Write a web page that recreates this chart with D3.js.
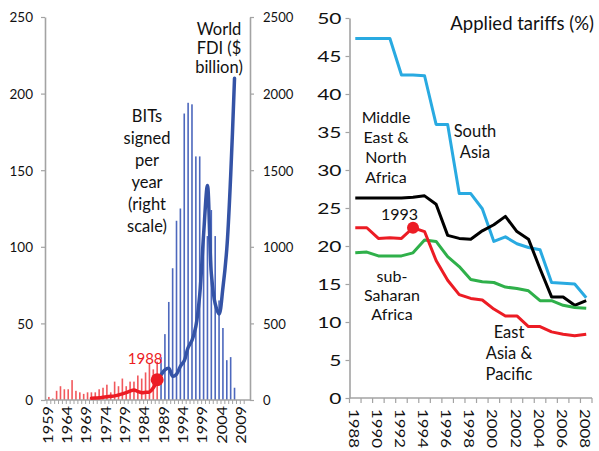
<!DOCTYPE html>
<html><head><meta charset="utf-8">
<script src="https://cdn.jsdelivr.net/npm/d3@7"></script>
<style>
body{margin:0;background:#fff}
svg{display:block}
text{font-family:Lato,"Open Sans",sans-serif;fill:#111}
</style>
</head><body>
<svg id="chart" width="599" height="451"></svg>
<script>
// ---------- Left panel data ----------
const leftCategories = [1959,1960,1961,1962,1963,1964,1965,1966,1967,1968,1969,1970,1971,1972,1973,1974,1975,1976,1977,1978,1979,1980,1981,1982,1983,1984,1985,1986,1987,1988,1989,1990,1991,1992,1993,1994,1995,1996,1997,1998,1999,2000,2001,2002,2003,2004,2005,2006,2007,2008,2009,2010];
const leftTickYears = [1959,1964,1969,1974,1979,1984,1989,1994,1999,2004,2009];
const bitYearsRed = [1959,1960,1961,1962,1963,1964,1965,1966,1967,1968,1969,1970,1971,1972,1973,1974,1975,1976,1977,1978,1979,1980,1981,1982,1983,1984,1985,1986,1987];
const bitsRed =     [2,1,6,9,7,7,13,6,5,4,5,5,5,7,8,10,5,12,9,14,9,12,12,16,14,18,24,20,25];
const bitYearsBlue = [1988,1989,1990,1991,1992,1993,1994,1995,1996,1997,1998,1999,2000,2001,2002,2003,2004,2005,2006,2007];
const bitsBlue =     [28,43,64,86,117,125,187,194,193,159,159,105,107,124,107,65,47,26,28,8];
const fdiYearsRed = [1970,1971,1972,1973,1974,1975,1976,1977,1978,1979,1980,1981,1982,1983,1984,1985,1986,1987];
const fdiRed =      [12,13,15,18,21,24,27,33,40,48,58,66,55,48,50,52,80,132];
const fdiYearsBlue = [1987,1988,1989,1990,1991,1992,1993,1994,1995,1996,1997,1998,1999,2000,2001,2002,2003,2004,2005,2006,2007];
const fdiBlue =      [132,164,197,207,155,168,220,256,342,389,481,686,1079,1400,826,628,561,733,986,1461,2100];
const bitsAxisTicks = [0,50,100,150,200,250];
const fdiAxisTicks = [0,500,1000,1500,2000,2500];
const leftMarkerYear = 1987;
const leftMarkerLabel = "1988";

// ---------- Right panel data ----------
const tariffYears = [1988,1989,1990,1991,1992,1993,1994,1995,1996,1997,1998,1999,2000,2001,2002,2003,2004,2005,2006,2007,2008];
const tariffTickYears = [1988,1990,1992,1994,1996,1998,2000,2002,2004,2006,2008];
const southAsia = [47.3,47.3,47.3,47.3,42.5,42.5,42.4,36.0,36.0,26.9,26.9,24.9,20.6,21.2,20.3,19.8,19.5,15.2,15.1,15.0,13.2];
const mena      = [26.3,26.3,26.3,26.3,26.3,26.4,26.6,25.5,21.4,21.0,20.9,22.0,22.8,23.9,21.9,20.9,17.0,13.3,13.3,12.2,12.8];
const eastAsia  = [22.4,22.4,21.0,21.1,21.0,22.4,21.9,18.1,15.5,13.6,13.1,12.9,11.7,10.8,10.8,9.4,9.4,8.7,8.4,8.2,8.4];
const ssa       = [19.1,19.2,18.7,18.7,18.7,19.1,20.8,20.6,18.6,17.3,15.6,15.3,15.2,14.6,14.4,14.1,12.8,12.8,12.2,11.9,11.8];
const tariffAxisTicks = [0,5,10,15,20,25,30,35,40,45,50];
const rightMarkerYear = 1993;

const svg = d3.select("#chart");
const AX = "#a3a3a3";
const fmt = d3.format("d");

// ================= LEFT PANEL =================
const xL = d3.scaleBand().domain(leftCategories).range([45, 250]).paddingOuter(0.5).paddingInner(0);
const yL = d3.scaleLinear().domain([0, 250]).range([400, 17]);
const yR = d3.scaleLinear().domain([0, 2500]).range([400, 17]);
const cx = y => xL(y) + xL.bandwidth() / 2;

const gL = svg.append("g");

const axL = gL.append("g").attr("transform", "translate(45,0)")
  .call(d3.axisLeft(yL).tickValues(bitsAxisTicks).tickFormat(fmt).tickSize(4).tickSizeOuter(0));
const axR = gL.append("g").attr("transform", "translate(250,0)")
  .call(d3.axisRight(yR).tickValues(fdiAxisTicks).tickFormat(fmt).tickSize(4).tickSizeOuter(0));
[axL, axR].forEach(a => {
  a.attr("font-family", null);
  a.select(".domain").attr("stroke", AX).attr("stroke-width", 1.6);
  a.selectAll(".tick line").attr("stroke", AX).attr("stroke-width", 1.2);
});
axL.selectAll(".tick text").attr("x", null).attr("dy", null)
  .attr("dominant-baseline", "central").attr("text-anchor", "end")
  .attr("transform", "translate(-12,0) scale(1.08,1)")
  .style("font-size", "12.5px").attr("fill", "#222");
axR.selectAll(".tick text").attr("x", null).attr("dy", null)
  .attr("dominant-baseline", "central").attr("text-anchor", "start")
  .attr("transform", "translate(13,0) scale(1.05,1)")
  .style("font-size", "12.5px").attr("fill", "#222");

// bars
gL.append("g").selectAll("rect").data(bitYearsRed.map((y, i) => [y, bitsRed[i]])).join("rect")
  .attr("x", d => cx(d[0]) - 0.8).attr("width", 1.6)
  .attr("y", d => yL(d[1])).attr("height", d => yL(0) - yL(d[1]))
  .attr("fill", "#ef3b40").attr("opacity", 0.85);
gL.append("g").selectAll("rect").data(bitYearsBlue.map((y, i) => [y, bitsBlue[i]])).join("rect")
  .attr("x", d => cx(d[0]) - 0.8).attr("width", 1.6)
  .attr("y", d => yL(d[1])).attr("height", d => yL(0) - yL(d[1]))
  .attr("fill", "#4d68bd");

// x axis line and ticks
gL.append("line").attr("x1", 45).attr("x2", 250).attr("y1", yL(0)).attr("y2", yL(0))
  .attr("stroke", AX).attr("stroke-width", 1.6);
gL.append("g").selectAll("line").data(leftCategories).join("line")
  .attr("x1", d => xL(d)).attr("x2", d => xL(d)).attr("y1", yL(0)).attr("y2", yL(0) + 4)
  .attr("stroke", AX).attr("stroke-width", 1);
gL.append("g").selectAll("text").data(leftTickYears).join("text")
  .attr("transform", d => `translate(${cx(d) - 1},406) rotate(-90) scale(1.3,1)`)
  .attr("text-anchor", "end").attr("dominant-baseline", "central")
  .style("font-size", "12.5px").attr("fill", "#222").text(d => d);

// FDI lines
const lineL = d3.line().x(d => cx(d[0])).y(d => yR(d[1])).curve(d3.curveCatmullRom.alpha(0.5));
gL.append("path").datum(fdiYearsRed.map((y, i) => [y, fdiRed[i]]))
  .attr("d", lineL).attr("fill", "none").attr("stroke", "#ec1c24").attr("stroke-width", 3.5)
  .attr("stroke-linecap", "round");
gL.append("path").datum(fdiYearsBlue.map((y, i) => [y, fdiBlue[i]]))
  .attr("d", lineL).attr("fill", "none").attr("stroke", "#3453a6").attr("stroke-width", 3.5)
  .attr("stroke-linecap", "round").attr("stroke-linejoin", "round");
const mIdx = fdiYearsRed.indexOf(leftMarkerYear);
gL.append("circle").attr("cx", cx(leftMarkerYear)).attr("cy", yR(fdiRed[mIdx])).attr("r", 6.5).attr("fill", "#ec1c24");
gL.append("text").attr("x", cx(leftMarkerYear) - 12).attr("y", 363.5).attr("text-anchor", "middle")
  .style("font-size", "15px").style("fill", "#ec1c24").text(leftMarkerLabel);

function multi(g, lines, x, y0, dy, size, anchor) {
  const t = g.append("text").attr("text-anchor", anchor || "middle").style("font-size", size + "px");
  lines.forEach((s, i) => t.append("tspan").attr("x", x).attr("y", y0 + i * dy).text(s));
}
multi(gL, ["World", "FDI ($", "billion)"], 219, 35, 19, 16.5);
multi(gL, ["BITs", "signed", "per", "year", "(right", "scale)"], 147, 121.5, 22, 16.5);

// ================= RIGHT PANEL =================
const xT = d3.scaleBand().domain(tariffYears).range([349.5, 592]).paddingInner(0).paddingOuter(0);
const yT = d3.scaleLinear().domain([0, 50]).range([398, 18]);
const tx = y => xT(y) + xT.bandwidth() / 2;
const gR = svg.append("g");

const axT = gR.append("g").attr("transform", "translate(349.5,0)")
  .call(d3.axisLeft(yT).tickValues(tariffAxisTicks).tickFormat(fmt).tickSize(4).tickSizeOuter(0));
axT.attr("font-family", null);
axT.select(".domain").attr("stroke", AX).attr("stroke-width", 1.6);
axT.selectAll(".tick line").attr("stroke", AX).attr("stroke-width", 1.2);
axT.selectAll(".tick text").attr("x", null).attr("dy", null)
  .attr("dominant-baseline", "central").attr("text-anchor", "end")
  .attr("transform", "translate(-8,0) scale(1.4,1)")
  .style("font-size", "15px").attr("fill", "#222");

gR.append("line").attr("x1", 349.5).attr("x2", 592).attr("y1", yT(0)).attr("y2", yT(0))
  .attr("stroke", AX).attr("stroke-width", 1.6);
gR.append("g").selectAll("line").data(tariffYears.concat(["end"])).join("line")
  .attr("x1", d => d === "end" ? 592 : xT(d)).attr("x2", d => d === "end" ? 592 : xT(d))
  .attr("y1", yT(0)).attr("y2", yT(0) + 5)
  .attr("stroke", AX).attr("stroke-width", 1.2);
gR.append("g").selectAll("text").data(tariffTickYears).join("text")
  .attr("transform", d => `translate(${tx(d) - 1},409) rotate(90) scale(1.2,1)`)
  .attr("text-anchor", "start").attr("dominant-baseline", "central")
  .style("font-size", "14px").attr("fill", "#222").text(d => d);

const lineT = d3.line().x((d, i) => tx(tariffYears[i])).y(d => yT(d));
[[southAsia, "#29aae1"], [mena, "#000000"], [ssa, "#2fb04a"], [eastAsia, "#ec1c24"]].forEach(([s, c]) => {
  gR.append("path").datum(s).attr("d", lineT).attr("fill", "none").attr("stroke", c)
    .attr("stroke-width", 3).attr("stroke-linejoin", "round");
});
gR.append("circle").attr("cx", tx(rightMarkerYear)).attr("cy", yT(eastAsia[tariffYears.indexOf(rightMarkerYear)]))
  .attr("r", 6).attr("fill", "#ec1c24");

gR.append("text").attr("x", 594).attr("y", 30).attr("text-anchor", "end").style("font-size", "18.5px").text("Applied tariffs (%)");
multi(gR, ["Middle", "East &", "North", "Africa"], 386, 122.7, 20, 16);
multi(gR, ["South", "Asia"], 475, 137.3, 21, 16.5);
gR.append("text").attr("x", 399.5).attr("y", 220).attr("text-anchor", "middle").style("font-size", "16px").text("1993");
multi(gR, ["sub-", "Saharan", "Africa"], 392, 281.7, 19, 16);
multi(gR, ["East", "Asia &", "Pacific"], 509, 338.3, 21, 16.5);
</script>
</body></html>
